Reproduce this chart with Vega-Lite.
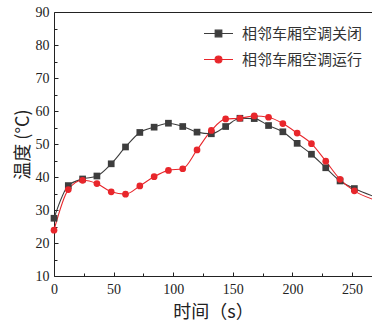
{
  "$schema": "https://vega.github.io/schema/vega-lite/v6.json",
  "autosize": "none",
  "width": 318,
  "height": 264,
  "padding": {"left": 54, "top": 12, "right": 0, "bottom": 46},
  "background": "white",
  "config": {
    "view": {"stroke": null},
    "axis": {
      "domainColor": "#222222", "tickColor": "#222222", "grid": false, "labelOverlap": false,
      "labelFont": "Liberation Serif, Times New Roman, serif", "labelFontSize": 14, "labelColor": "#222222",
      "titleFont": "Noto Sans CJK SC", "titleFontSize": 18, "titleFontWeight": "normal", "titleColor": "#222222"
    }
  },
  "data": {"values": [
    {"t": 0, "T": 27.5, "s": "相邻车厢空调关闭"},
    {"t": 12, "T": 37.4, "s": "相邻车厢空调关闭"},
    {"t": 24, "T": 39.4, "s": "相邻车厢空调关闭"},
    {"t": 36, "T": 40.3, "s": "相邻车厢空调关闭"},
    {"t": 48, "T": 44.0, "s": "相邻车厢空调关闭"},
    {"t": 60, "T": 49.1, "s": "相邻车厢空调关闭"},
    {"t": 72, "T": 53.5, "s": "相邻车厢空调关闭"},
    {"t": 84, "T": 55.1, "s": "相邻车厢空调关闭"},
    {"t": 96, "T": 56.3, "s": "相邻车厢空调关闭"},
    {"t": 108, "T": 55.3, "s": "相邻车厢空调关闭"},
    {"t": 120, "T": 53.6, "s": "相邻车厢空调关闭"},
    {"t": 132, "T": 53.1, "s": "相邻车厢空调关闭"},
    {"t": 144, "T": 55.3, "s": "相邻车厢空调关闭"},
    {"t": 156, "T": 57.8, "s": "相邻车厢空调关闭"},
    {"t": 168, "T": 57.7, "s": "相邻车厢空调关闭"},
    {"t": 180, "T": 55.6, "s": "相邻车厢空调关闭"},
    {"t": 192, "T": 53.7, "s": "相邻车厢空调关闭"},
    {"t": 204, "T": 50.2, "s": "相邻车厢空调关闭"},
    {"t": 216, "T": 46.9, "s": "相邻车厢空调关闭"},
    {"t": 228, "T": 42.8, "s": "相邻车厢空调关闭"},
    {"t": 240, "T": 38.8, "s": "相邻车厢空调关闭"},
    {"t": 252, "T": 36.5, "s": "相邻车厢空调关闭"},
    {"t": 267, "T": 34.3, "s": "相邻车厢空调关闭"},
    {"t": 0, "T": 23.9, "s": "相邻车厢空调运行"},
    {"t": 12, "T": 36.2, "s": "相邻车厢空调运行"},
    {"t": 24, "T": 39.0, "s": "相邻车厢空调运行"},
    {"t": 36, "T": 38.0, "s": "相邻车厢空调运行"},
    {"t": 48, "T": 35.5, "s": "相邻车厢空调运行"},
    {"t": 60, "T": 34.8, "s": "相邻车厢空调运行"},
    {"t": 72, "T": 37.3, "s": "相邻车厢空调运行"},
    {"t": 84, "T": 40.1, "s": "相邻车厢空调运行"},
    {"t": 96, "T": 42.0, "s": "相邻车厢空调运行"},
    {"t": 108, "T": 42.5, "s": "相邻车厢空调运行"},
    {"t": 120, "T": 48.2, "s": "相邻车厢空调运行"},
    {"t": 132, "T": 54.1, "s": "相邻车厢空调运行"},
    {"t": 144, "T": 57.6, "s": "相邻车厢空调运行"},
    {"t": 156, "T": 57.8, "s": "相邻车厢空调运行"},
    {"t": 168, "T": 58.5, "s": "相邻车厢空调运行"},
    {"t": 180, "T": 58.1, "s": "相邻车厢空调运行"},
    {"t": 192, "T": 56.2, "s": "相邻车厢空调运行"},
    {"t": 204, "T": 53.3, "s": "相邻车厢空调运行"},
    {"t": 216, "T": 50.1, "s": "相邻车厢空调运行"},
    {"t": 228, "T": 44.8, "s": "相邻车厢空调运行"},
    {"t": 240, "T": 39.3, "s": "相邻车厢空调运行"},
    {"t": 252, "T": 35.8, "s": "相邻车厢空调运行"},
    {"t": 267, "T": 33.3, "s": "相邻车厢空调运行"}
  ]},
  "layer": [
    {
      "mark": {"type": "line", "interpolate": "monotone", "strokeWidth": 1.1, "clip": true},
      "encoding": {
        "x": {"field": "t", "type": "quantitative", "scale": {"domain": [0, 266.8], "nice": false},
          "axis": {"orient": "bottom", "title": "时间（s）", "values": [0,25,50,75,100,125,150,175,200,225,250],
            "labelExpr": "datum.value % 50 === 0 ? datum.label : ''", "labelOverlap": false,
            "tickSize": {"condition": {"test": "datum.value % 50 === 0", "value": -4}, "value": -3},
            "labelPadding": 10, "titlePadding": 6, "labelFlush": false}},
        "y": {"field": "T", "type": "quantitative", "scale": {"domain": [10, 90], "nice": false},
          "axis": {"orient": "left", "title": "温度 (°C)", "values": [10,15,20,25,30,35,40,45,50,55,60,65,70,75,80,85,90],
            "labelExpr": "datum.value % 10 === 0 ? datum.label : ''", "labelOverlap": false, "labelFlush": false,
            "tickSize": {"condition": {"test": "datum.value % 10 === 0", "value": -4}, "value": -3},
            "labelPadding": 9, "titlePadding": 3}},
        "color": {"field": "s", "type": "nominal",
          "scale": {"domain": ["相邻车厢空调关闭", "相邻车厢空调运行"], "range": ["#3d3d3d", "#e8262b"]},
          "legend": {
            "title": null, "orient": "none", "legendX": 149, "legendY": 6,
            "labelFont": "Noto Sans CJK SC", "labelFontSize": 15, "labelColor": "#333333",
            "symbolSize": 841, "symbolStrokeWidth": 1.1, "labelOffset": 8, "rowPadding": 2, "padding": 0,
            "encode": {"symbols": {"update": {
              "shape": {"signal": "datum.value === '相邻车厢空调关闭' ? 'M-1,0H1M-0.23,-0.23H0.23V0.23H-0.23Z' : 'M-1,0H1M0.24,0A0.24,0.24 0 1,1 -0.24,0A0.24,0.24 0 1,1 0.24,0Z'"},
              "fill": {"signal": "datum.value === '相邻车厢空调关闭' ? '#3d3d3d' : '#e8262b'"},
              "fillOpacity": {"value": 1}
            }}}
          }}
      }
    },
    {
      "transform": [{"filter": "datum.t <= 252 && datum.s === '相邻车厢空调关闭'"}],
      "mark": {"type": "point", "filled": true, "opacity": 1, "size": 45, "shape": "square", "color": "#3d3d3d"},
      "encoding": {
        "x": {"field": "t", "type": "quantitative", "scale": {"domain": [0, 266.8], "nice": false},
          "axis": {"orient": "top", "title": null, "labels": false, "ticks": false}},
        "y": {"field": "T", "type": "quantitative", "scale": {"domain": [10, 90], "nice": false}, "axis": null}
      }
    },
    {
      "transform": [{"filter": "datum.t <= 252 && datum.s === '相邻车厢空调运行'"}],
      "mark": {"type": "point", "filled": true, "opacity": 1, "size": 45, "shape": "circle", "color": "#e8262b"},
      "encoding": {
        "x": {"field": "t", "type": "quantitative", "scale": {"domain": [0, 266.8], "nice": false}, "axis": null},
        "y": {"field": "T", "type": "quantitative", "scale": {"domain": [10, 90], "nice": false}, "axis": null}
      }
    }
  ],
  "resolve": {"axis": {"x": "independent", "y": "independent"}}
}
